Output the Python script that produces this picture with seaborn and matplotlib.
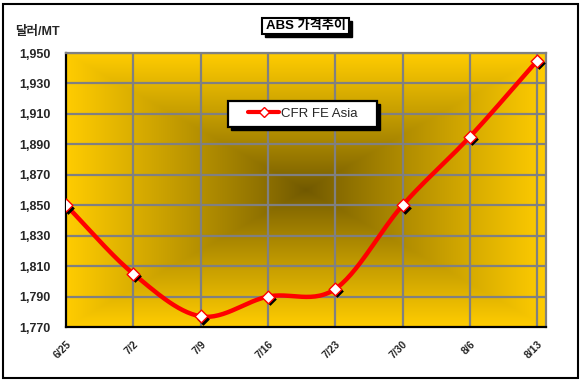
import numpy as np
import pandas as pd
import matplotlib
matplotlib.use("Agg")
import matplotlib.pyplot as plt
import matplotlib.transforms as mtransforms
from matplotlib.lines import Line2D
from matplotlib.patches import Rectangle
import seaborn as sns

# ---- data ----
dates = ["6/25", "7/2", "7/9", "7/16", "7/23", "7/30", "8/6", "8/13"]
prices = [1850, 1805, 1777, 1790, 1795, 1850, 1895, 1945]
series_name = "CFR FE Asia"
title = "ABS 가격추이"
unit_label = "달러/MT"
yticks = list(range(1770, 1951, 20))

sns.set_theme(style="white")
plt.rcParams['font.family'] = ['Liberation Sans', 'Noto Sans CJK KR', 'DejaVu Sans']

W, H = 581, 382
fig = plt.figure(figsize=(W / 100, H / 100), dpi=100)
fig.patch.set_facecolor("white")
ax = fig.add_axes([66 / W, 1 - 327 / H, 480 / W, 274 / H])

x = np.arange(len(dates))
y = np.array(prices, dtype=float)

# smooth curve (Catmull-Rom through the data points, like Excel smoothing)
def catmull(xp, yp, n=30):
    P = np.column_stack([xp, yp])
    P = np.vstack([P[0] - (P[1] - P[0]), P, P[-1] + (P[-1] - P[-2])])
    out = []
    for i in range(1, len(P) - 2):
        p0, p1, p2, p3 = P[i - 1], P[i], P[i + 1], P[i + 2]
        t = np.linspace(0, 1, n, endpoint=False)[:, None]
        c = 0.5 * ((2 * p1) + (-p0 + p2) * t + (2 * p0 - 5 * p1 + 4 * p2 - p3) * t ** 2
                   + (-p0 + 3 * p1 - 3 * p2 + p3) * t ** 3)
        out.append(c)
    out.append(P[-2][None, :])
    return np.vstack(out)

sm = catmull(x.astype(float), y)
df_s = pd.DataFrame({"x": sm[:, 0], "y": sm[:, 1]})
df = pd.DataFrame({"x": x, "y": y})

# gradient background (rectangular "from center")
gx = np.linspace(-1, 1, 300)
gy = np.linspace(-1, 1, 200)
GX, GY = np.meshgrid(gx, gy)
t = np.maximum(np.abs(GX), np.abs(GY))
t = np.clip(t, 0, 1) ** 0.9
dark = np.array([0x70, 0x58, 0x00]) / 255
gold = np.array([0xFF, 0xCC, 0x00]) / 255
img = dark[None, None, :] * (1 - t[..., None]) + gold[None, None, :] * t[..., None]
ax.imshow(img, extent=[0, 1, 0, 1], transform=ax.transAxes, aspect="auto", zorder=0,
          interpolation="bilinear")
ax.set_xlim(0, 7.13)
ax.set_ylim(1770, 1950)

# grid
for xi in x[1:]:
    ax.axvline(xi, color="#808080", lw=1.6, zorder=1)
for yv in yticks[1:]:
    ax.axhline(yv, color="#808080", lw=1.6, zorder=1)

# line
sns.lineplot(data=df_s, x="x", y="y", sort=False, color="#FF0000", lw=3.2, ax=ax,
             zorder=3, legend=False)
# marker shadow
shadow_tr = ax.transData + mtransforms.ScaledTranslation(2 / 100, -2.5 / 100, fig.dpi_scale_trans)
ax.scatter(x, y, marker="D", s=42, color="black", transform=shadow_tr, zorder=4,
           linewidths=0)
sns.scatterplot(data=df, x="x", y="y", marker="D", s=42, color="white",
                edgecolor="#FF0000", linewidth=1.0, ax=ax, zorder=5, legend=False)
ax.set_xlim(0, 7.13)
ax.set_ylim(1770, 1950)

# axes styling
ax.set_xticks(x)
ax.set_xticklabels(dates, rotation=45, ha="right", rotation_mode="anchor",
                   fontsize=7.5, fontweight="bold")
ax.set_yticks(yticks)
ax.set_yticklabels([f"{v:,}" for v in yticks], fontsize=9, fontweight="bold")
ax.tick_params(axis="both", which="both", direction="in", length=3, width=1.5,
               color="black")
ax.tick_params(axis="y", pad=11)
ax.tick_params(axis="x", pad=9)
ax.set_xlabel("")
ax.set_ylabel("")
for s in ["left", "bottom"]:
    ax.spines[s].set_color("black")
    ax.spines[s].set_linewidth(1.6)
for s in ["top", "right"]:
    ax.spines[s].set_color("#808080")
    ax.spines[s].set_linewidth(1.6)
    ax.spines[s].set_visible(True)

# legend box (drawn as patches) + legend content
lx0, lx1, ly0, ly1 = 228, 377, 101, 127
fig.patches.append(Rectangle(((lx0 + 3) / W, 1 - (ly1 + 3) / H), (lx1 - lx0) / W,
                             (ly1 - ly0) / H, transform=fig.transFigure,
                             facecolor="black", edgecolor="black", lw=1.0, zorder=8))
fig.patches.append(Rectangle((lx0 / W, 1 - ly1 / H), (lx1 - lx0) / W,
                             (ly1 - ly0) / H, transform=fig.transFigure,
                             facecolor="white", edgecolor="black", lw=1.6, zorder=8))
handle = Line2D([0], [0], color="#FF0000", lw=3, marker="D", markersize=5,
                markerfacecolor="white", markeredgecolor="#FF0000")
leg = fig.legend([handle], [series_name], loc="center",
                 bbox_to_anchor=((lx0 + lx1) / 2 / W, 1 - (ly0 + ly1) / 2 / H),
                 frameon=False, fontsize=9.5, handlelength=2.4, handletextpad=0.1,
                 borderpad=0, borderaxespad=0)
leg.set_zorder(10)

# title box with shadow (patches) and text
bx0, bx1, by0, by1 = 262, 349, 18, 34
fig.patches.append(Rectangle(((bx0 + 3) / W, 1 - (by1 + 3) / H), (bx1 - bx0) / W,
                             (by1 - by0) / H, transform=fig.transFigure,
                             facecolor="black", edgecolor="black", lw=1.0))
fig.patches.append(Rectangle((bx0 / W, 1 - by1 / H), (bx1 - bx0) / W,
                             (by1 - by0) / H, transform=fig.transFigure,
                             facecolor="white", edgecolor="black", lw=1.5))
fig.text((bx0 + bx1) / 2 / W, 1 - (by0 + by1) / 2 / H, title, ha="center", va="center",
         fontsize=9.5, fontweight="bold", color="black")

# unit label
fig.text(15 / W, 1 - 32 / H, unit_label, ha="left", va="center", fontsize=9,
         fontweight="bold")

# outer border
fig.patches.append(Rectangle((3 / W, 4 / H), 575 / W, 374 / H, transform=fig.transFigure,
                             fill=False, edgecolor="black", lw=1.5))

fig.savefig("out.png", dpi=100)
